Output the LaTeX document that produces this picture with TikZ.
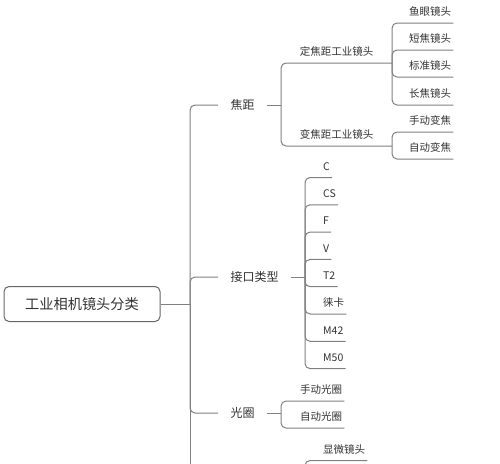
\documentclass[tikz,border=0pt]{standalone}
\usepackage{fontspec}
\setmainfont{Noto Sans CJK SC}
\definecolor{linegray}{HTML}{808080}
\definecolor{txtgray}{HTML}{333333}
\definecolor{boxgray}{HTML}{666666}
\begin{document}
\begin{tikzpicture}[x=1pt,y=-1pt,
  conn/.style={draw=linegray, line width=1pt, rounded corners=5pt},
  leaf/.style={font=\fontsize{10.5}{12}\selectfont, text=txtgray, inner xsep=2pt, inner ysep=0pt, text height=9pt, text depth=7pt},
  lvl1/.style={font=\fontsize{12}{14}\selectfont, text=txtgray, inner xsep=12.5pt, inner ysep=0pt, anchor=west},
  rootbox/.style={draw=boxgray, line width=1pt, rounded corners=5pt, fill=white, minimum width=156pt, minimum height=35pt, inner sep=0pt, font=\fontsize{14.2}{17}\selectfont, text=txtgray}]
\clip (0,0) rectangle (500,463);
\fill[white] (0,0) rectangle (500,463);

% root and main fork
\node[rootbox] (root) at (82,304) {工业相机镜头分类};
\coordinate (fM) at (190,304);
\coordinate (mEnd) at (190,490);
\node[lvl1] (jiaoju) at (218,105) {焦距};
\node[lvl1] (jiekou) at (218,277) {接口类型};
\node[lvl1] (guangquan) at (218,413) {光圈};
\draw[conn] (root.east) -- (fM);
\draw[conn] (fM) |- (jiaoju.west);
\draw[conn] (fM) |- (jiekou.west);
\draw[conn] (fM) |- (guangquan.west);
\draw[conn] (fM) -- (mEnd);

% 焦距
\coordinate (fF) at (281,105);
\draw[conn] (jiaoju.east) -- (fF);
\node[leaf, anchor=south] (ding) at (336.5,63) {定焦距工业镜头};
\node[leaf, anchor=south] (bian) at (336.5,146) {变焦距工业镜头};
\coordinate (fA) at (392,63);
\coordinate (fB) at (392,146);
\draw[conn] (fF) |- (fA);
\draw[conn] (fF) |- (fB);

\node[leaf, anchor=south west] (yuyan) at (407,23) {鱼眼镜头};
\node[leaf, anchor=south west] (duanjiao) at (407,50) {短焦镜头};
\node[leaf, anchor=south west] (biaozhun) at (407,77) {标准镜头};
\node[leaf, anchor=south west] (changjiao) at (407,105) {长焦镜头};
\draw[conn] (fA) |- (yuyan.south east);
\draw[conn] (fA) |- (duanjiao.south east);
\draw[conn] (fA) |- (biaozhun.south east);
\draw[conn] (fA) |- (changjiao.south east);

\node[leaf, anchor=south west] (shoudongbj) at (407,132) {手动变焦};
\node[leaf, anchor=south west] (zidongbj) at (407,159) {自动变焦};
\draw[conn] (fB) |- (shoudongbj.south east);
\draw[conn] (fB) |- (zidongbj.south east);

% 接口类型
\coordinate (fJ) at (305,277);
\draw[conn] (jiekou.east) -- (fJ);
\node[leaf, anchor=south west] (kC) at (321,177.5) {C};
\node[leaf, anchor=south west] (kCS) at (321,204.8) {CS};
\node[leaf, anchor=south west] (kF) at (321,232.1) {F};
\node[leaf, anchor=south west] (kV) at (321,259.4) {V};
\node[leaf, anchor=south west] (kT) at (321,286.7) {T2};
\node[leaf, anchor=south west] (kL) at (321,314) {徕卡};
\node[leaf, anchor=south west] (kM4) at (321,341.3) {M42};
\node[leaf, anchor=south west] (kM5) at (321,368.6) {M50};
\foreach \n in {kC,kCS,kF,kV,kT,kL,kM4,kM5}
  \draw[conn] (fJ) |- (\n.south east);

% 光圈
\coordinate (fG) at (281,413);
\draw[conn] (guangquan.east) -- (fG);
\node[leaf, anchor=south west] (sdgq) at (298,401) {手动光圈};
\node[leaf, anchor=south west] (zdgq) at (298,428) {自动光圈};
\draw[conn] (fG) |- (sdgq.south east);
\draw[conn] (fG) |- (zdgq.south east);

% partly visible branch
\coordinate (fX) at (305,495);
\node[leaf, anchor=south west] (xianwei) at (321,460.5) {显微镜头};
\draw[conn] (fX) |- (xianwei.south east);
\end{tikzpicture}
\end{document}
